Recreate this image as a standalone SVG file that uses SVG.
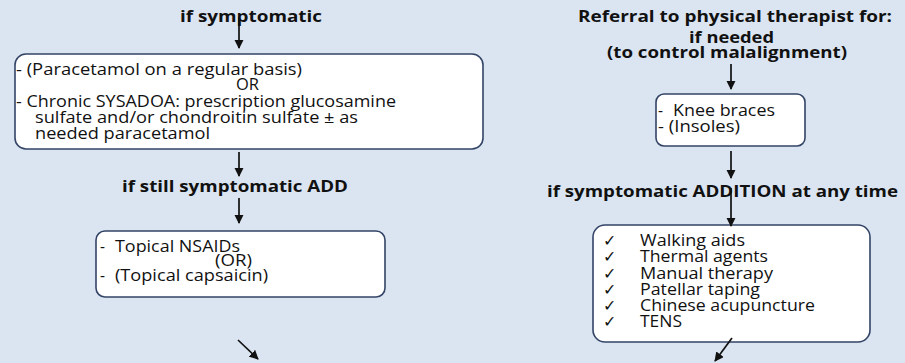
<svg xmlns="http://www.w3.org/2000/svg" width="905" height="363" viewBox="0 0 905 363">
<defs>
<style>
.bg{fill:#dbe5f1}
.box{fill:#ffffff;stroke:#334466;stroke-width:1.6}
.h{font-family:"Open Sans","Liberation Sans",sans-serif;font-weight:bold;font-size:16px;fill:#111}
.t{font-family:"Open Sans","Liberation Sans",sans-serif;font-size:15.5px;fill:#111}
.c{stroke:#111;stroke-width:1.7;fill:none;marker-end:url(#ah)}
</style>
<marker id="ah" viewBox="0 0 10 10" refX="9" refY="5" markerWidth="5.5" markerHeight="5.5" markerUnits="strokeWidth" orient="auto">
<path d="M0,0 L10,5 L0,10 z" fill="#111"/>
</marker>
</defs>
<rect class="bg" x="0" y="0" width="905" height="363"/>

<g id="label-if-symptomatic"><text class="h" x="180" y="22" textLength="142" lengthAdjust="spacingAndGlyphs">if symptomatic</text></g>
<g id="box-paracetamol">
<rect class="box" x="15" y="54" width="468" height="95" rx="11"/>
<text class="t" x="16" y="75" textLength="286" lengthAdjust="spacingAndGlyphs">- (Paracetamol on a regular basis)</text>
<text class="t" x="236" y="90" textLength="23" lengthAdjust="spacingAndGlyphs">OR</text>
<text class="t" x="16" y="107" textLength="380" lengthAdjust="spacingAndGlyphs">- Chronic SYSADOA: prescription glucosamine</text>
<text class="t" x="35" y="123" textLength="323" lengthAdjust="spacingAndGlyphs">sulfate and/or chondroitin sulfate ± as</text>
<text class="t" x="35" y="139" textLength="175" lengthAdjust="spacingAndGlyphs">needed paracetamol</text>
</g>
<g id="label-still"><text class="h" x="122" y="192" textLength="226" lengthAdjust="spacingAndGlyphs">if still symptomatic ADD</text></g>
<g id="box-topical">
<rect class="box" x="96" y="231" width="289" height="66" rx="9"/>
<text class="t" x="100" y="252">-</text>
<text class="t" x="115" y="252" textLength="125" lengthAdjust="spacingAndGlyphs">Topical NSAIDs</text>
<text class="t" x="215" y="266" textLength="37" lengthAdjust="spacingAndGlyphs">(OR)</text>
<text class="t" x="100" y="281">-</text>
<text class="t" x="115" y="281" textLength="153" lengthAdjust="spacingAndGlyphs">(Topical capsaicin)</text>
</g>

<g id="label-referral">
<text class="h" x="578" y="22" textLength="314" lengthAdjust="spacingAndGlyphs">Referral to physical therapist for:</text>
<text class="h" x="689" y="43" textLength="85" lengthAdjust="spacingAndGlyphs">if needed</text>
<text class="h" x="607" y="58" textLength="240" lengthAdjust="spacingAndGlyphs">(to control malalignment)</text>
</g>
<g id="box-braces">
<rect class="box" x="656" y="94" width="149" height="52" rx="8"/>
<text class="t" x="658" y="116">-</text>
<text class="t" x="673" y="116" textLength="102" lengthAdjust="spacingAndGlyphs">Knee braces</text>
<text class="t" x="658" y="132" textLength="82" lengthAdjust="spacingAndGlyphs">- (Insoles)</text>
</g>
<g id="label-addition"><text class="h" x="547" y="197" textLength="351" lengthAdjust="spacingAndGlyphs">if symptomatic ADDITION at any time</text></g>
<g id="box-physio">
<rect class="box" x="593" y="225" width="277" height="117" rx="12"/>
<text class="t" x="603" y="246">✓</text><text class="t" x="640" y="246" textLength="105" lengthAdjust="spacingAndGlyphs">Walking aids</text>
<text class="t" x="603" y="262">✓</text><text class="t" x="640" y="262" textLength="128" lengthAdjust="spacingAndGlyphs">Thermal agents</text>
<text class="t" x="603" y="279">✓</text><text class="t" x="640" y="279" textLength="133" lengthAdjust="spacingAndGlyphs">Manual therapy</text>
<text class="t" x="603" y="295">✓</text><text class="t" x="640" y="295" textLength="120" lengthAdjust="spacingAndGlyphs">Patellar taping</text>
<text class="t" x="603" y="311">✓</text><text class="t" x="640" y="311" textLength="175" lengthAdjust="spacingAndGlyphs">Chinese acupuncture</text>
<text class="t" x="603" y="327">✓</text><text class="t" x="640" y="327" textLength="42" lengthAdjust="spacingAndGlyphs">TENS</text>
</g>

<g id="connectors">
<line class="c" x1="239" y1="17" x2="239" y2="48"/>
<line class="c" x1="239" y1="152" x2="239" y2="176"/>
<line class="c" x1="239" y1="198" x2="239" y2="223"/>
<line class="c" x1="238" y1="340" x2="258" y2="359"/>
<line class="c" x1="731" y1="64" x2="731" y2="89"/>
<line class="c" x1="731" y1="151" x2="731" y2="178"/>
<line class="c" x1="731" y1="188" x2="731" y2="226"/>
<line class="c" x1="732" y1="338" x2="715" y2="361"/>
</g>
</svg>
